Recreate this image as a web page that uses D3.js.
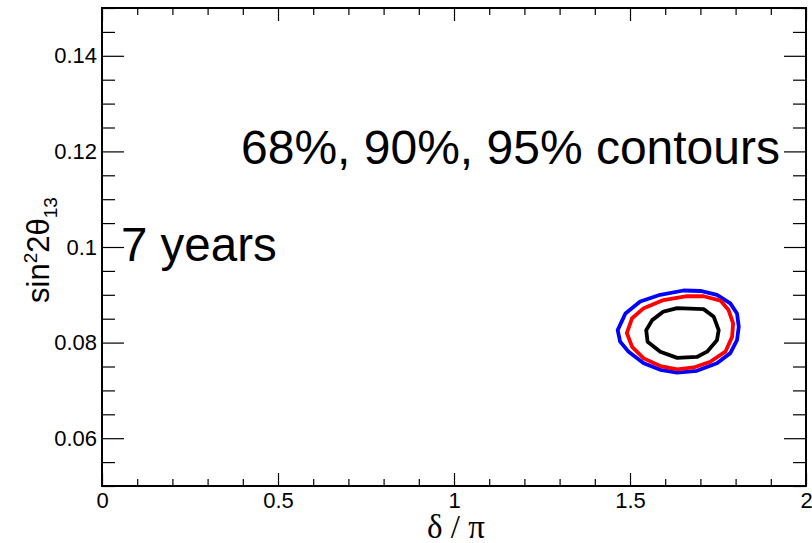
<!DOCTYPE html>
<html>
<head>
<meta charset="utf-8">
<script src="https://cdn.jsdelivr.net/npm/d3@7"></script>
<style>
  body { margin: 0; background: #fff; }
  svg { display: block; }
  .tick text { font-family: "Liberation Sans", Arial, sans-serif; font-size: 22px; fill: #000; }
  .tick line { stroke: #000; stroke-width: 1.2; }
</style>
</head>
<body>
<svg width="812" height="543"></svg>
<script>
// Confidence contours in the (delta/pi, sin^2 2theta13) plane, 7 years of running.

// contour points as [delta/pi, sin^2 2theta13]
const contour68 = [
    [1.595, 0.0865], [1.634, 0.0872], [1.709, 0.0870], [1.738, 0.0854],
    [1.752, 0.0826], [1.747, 0.0805], [1.719, 0.0781], [1.690, 0.0770],
    [1.634, 0.0768], [1.586, 0.0781], [1.550, 0.0802], [1.546, 0.0826],
    [1.563, 0.0847]
];
const contour90 = [
    [1.491, 0.0820], [1.506, 0.0851], [1.539, 0.0872], [1.595, 0.0889],
    [1.662, 0.0897], [1.709, 0.0897], [1.757, 0.0888], [1.780, 0.0868],
    [1.793, 0.0840], [1.790, 0.0812], [1.771, 0.0781], [1.728, 0.0760],
    [1.681, 0.0748], [1.634, 0.0744], [1.586, 0.0751], [1.539, 0.0767],
    [1.506, 0.0791]
];
const contour95 = [
    [1.465, 0.0826], [1.487, 0.0861], [1.529, 0.0886], [1.586, 0.0900],
    [1.652, 0.0909], [1.700, 0.0908], [1.747, 0.0900], [1.785, 0.0882],
    [1.804, 0.0861], [1.809, 0.0833], [1.804, 0.0805], [1.785, 0.0778],
    [1.747, 0.0757], [1.690, 0.0741], [1.634, 0.0737], [1.586, 0.0743],
    [1.539, 0.0757], [1.496, 0.0781], [1.472, 0.0802]
];

const contourNames = ['95%', '90%', '68%'];
const contourColors = ['#0000ff', '#ff0000', '#000000'];

const xMajorTicks = [0, 0.5, 1, 1.5, 2];
const xTickLabels = ['0', '0.5', '1', '1.5', '2'];
const yMajorTicks = [0.06, 0.08, 0.1, 0.12, 0.14];
const yTickLabels = ['0.06', '0.08', '0.1', '0.12', '0.14'];

const titleText = '68%, 90%, 95% contours';
const periodText = '7 years';

let margin = { top: 8, right: 6, bottom: 57, left: 102 },
    width = 812,
    height = 543;

let svg = d3.select('svg');

let x = d3.scaleLinear()
    .domain([0, 2])
    .range([margin.left, width - margin.right]);

let y = d3.scaleLinear()
    .domain([0.05, 0.15])
    .range([height - margin.bottom, margin.top]);

// minor ticks: every 0.1 on x, every 0.005 on y
let xMinor = d3.range(0, 2.0001, 0.1).filter((d) => !xMajorTicks.some((m) => Math.abs(m - d) < 1e-6));
let yMinor = d3.range(0.05, 0.15001, 0.005).filter((d) => !yMajorTicks.some((m) => Math.abs(m - d) < 1e-6));

let x0 = margin.left, x1 = width - margin.right,
    y0 = height - margin.bottom, y1 = margin.top;

// Axes, ticks point inward like ROOT
function addAxis(axis, tx, ty) {
    svg.append('g')
        .attr('transform', `translate(${tx},${ty})`)
        .call(axis)
      .select('.domain').remove();
}

addAxis(d3.axisBottom(x).tickValues(xMajorTicks).tickSize(-13).tickPadding(6)
    .tickFormat((d, i) => xTickLabels[i]), 0, y0);
addAxis(d3.axisBottom(x).tickValues(xMinor).tickSize(-7).tickFormat(''), 0, y0);
addAxis(d3.axisTop(x).tickValues(xMajorTicks).tickSize(-13).tickFormat(''), 0, y1);
addAxis(d3.axisTop(x).tickValues(xMinor).tickSize(-7).tickFormat(''), 0, y1);

addAxis(d3.axisLeft(y).tickValues(yMajorTicks).tickSize(-22).tickPadding(5)
    .tickFormat((d, i) => yTickLabels[i]), x0, 0);
addAxis(d3.axisLeft(y).tickValues(yMinor).tickSize(-13).tickFormat(''), x0, 0);
addAxis(d3.axisRight(y).tickValues(yMajorTicks).tickSize(-22).tickFormat(''), x1, 0);
addAxis(d3.axisRight(y).tickValues(yMinor).tickSize(-13).tickFormat(''), x1, 0);

// frame
svg.append('rect')
    .attr('x', x0)
    .attr('y', y1)
    .attr('width', x1 - x0)
    .attr('height', y0 - y1)
    .attr('fill', 'none')
    .attr('stroke', '#000')
    .attr('stroke-width', 2);

// contours
let line = d3.line()
    .x((d) => x(d[0]))
    .y((d) => y(d[1]))
    .curve(d3.curveLinearClosed);

svg.append('g')
    .attr('class', 'contours')
  .selectAll('path')
  .data([contour95, contour90, contour68])
  .enter().append('path')
    .attr('d', line)
    .attr('fill', 'none')
    .attr('stroke', (d, i) => contourColors[i])
    .attr('stroke-width', 3.8)
    .attr('stroke-linejoin', 'round')
  .append('title')
    .text((d, i) => contourNames[i]);

// labels
svg.append('text')
    .attr('x', 241)
    .attr('y', 164)
    .attr('font-family', '"Liberation Sans", Arial, sans-serif')
    .attr('font-size', 48)
    .text(titleText);

svg.append('text')
    .attr('x', 121)
    .attr('y', 261)
    .attr('font-family', '"Liberation Sans", Arial, sans-serif')
    .attr('font-size', 47.5)
    .text(periodText);

// x axis title
svg.append('text')
    .attr('x', x(1) + 2)
    .attr('y', 538)
    .attr('text-anchor', 'middle')
    .attr('font-family', '"Liberation Serif", "DejaVu Serif", serif')
    .attr('font-size', 33)
    .text('δ / π');

// y axis title
let yt = svg.append('text')
    .attr('transform', `translate(49,${y(0.1) + 3}) rotate(-90)`)
    .attr('text-anchor', 'middle')
    .attr('font-family', '"Liberation Sans", Arial, sans-serif')
    .attr('font-size', 31);
yt.append('tspan').text('sin');
yt.append('tspan').attr('font-size', 19).attr('dy', -12).text('2');
yt.append('tspan').attr('dy', 12).text('2θ');
yt.append('tspan').attr('font-size', 19).attr('dy', 8).text('13');
</script>
</body>
</html>
